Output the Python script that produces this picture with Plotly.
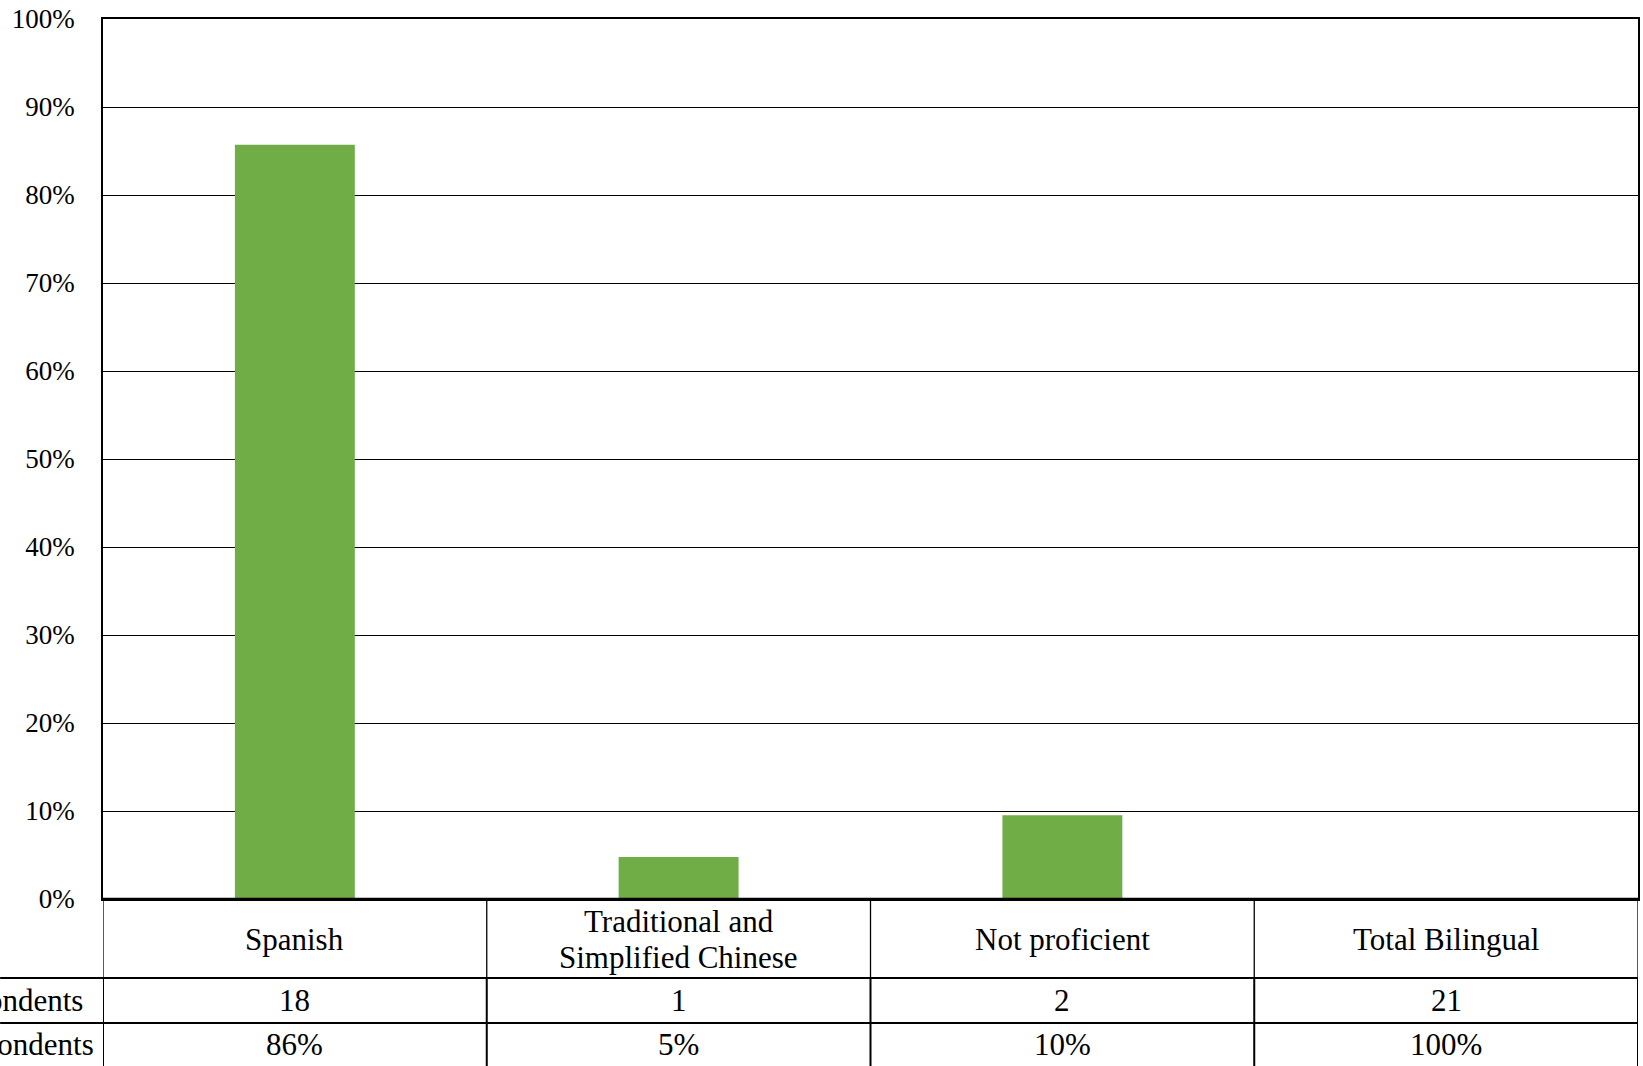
import plotly.graph_objects as go

# Bilingual respondents by language
categories = ["Spanish", "Traditional and<br>Simplified Chinese", "Not proficient", "Total Bilingual"]
respondents = [18, 1, 2, 21]
total_respondents = 21
shown_bars = [True, True, True, False]   # the total column has no bar
row_labels = ["Number of Respondents", "Percentage of Respondents"]
y_ticks = [0, 0.1, 0.2, 0.3, 0.4, 0.5, 0.6, 0.7, 0.8, 0.9, 1.0]

shares = [n / total_respondents for n in respondents]
bar_values = [s if show else None for s, show in zip(shares, shown_bars)]
percent_text = [f"{round(s * 100)}%" for s in shares]

W, H = 1643, 1066
L, R, T, B = 103, 3, 19, 167
plot_h = H - T - B
plot_w = W - L - R
FONT = "Liberation Serif, Times New Roman, serif"


def py(pixel_y):
    """Pixel row -> paper y (0 at the category axis, 1 at the top of the plot)."""
    return (H - B - pixel_y) / plot_h


def px(pixel_x):
    return (pixel_x - L) / plot_w


fig = go.Figure(
    go.Bar(
        x=list(range(len(categories))),
        y=bar_values,
        width=0.3125,
        marker=dict(color="#70AD47", line=dict(width=0)),
        hoverinfo="skip",
    )
)

fig.update_layout(
    width=W,
    height=H,
    margin=dict(l=L, r=R, t=T, b=B, pad=0),
    paper_bgcolor="white",
    plot_bgcolor="white",
    showlegend=False,
    font=dict(family=FONT, color="black"),
    xaxis=dict(
        range=[-0.5, len(categories) - 0.5],
        showticklabels=False,
        showgrid=False,
        zeroline=False,
        showline=True,
        linecolor="black",
        linewidth=1.5,
        mirror=True,
        ticks="",
    ),
    yaxis=dict(
        range=[0, 1],
        tickvals=y_ticks,
        tickformat=".0%",
        tickfont=dict(family=FONT, size=27, color="black"),
        ticklabelstandoff=21,
        ticks="",
        showgrid=True,
        gridcolor="black",
        gridwidth=1.2,
        zeroline=False,
        showline=True,
        linecolor="black",
        linewidth=1.5,
        mirror=True,
    ),
)

shapes = []
row_top = H - B           # 899
row1_bot = 978
row2_bot = 1023
row3_bot = 1068

# horizontal table rules
shapes.append(dict(type="line", xref="paper", yref="paper", x0=0, x1=1,
                   y0=0, y1=0, line=dict(color="black", width=2.5)))
for yy in (row1_bot, row2_bot):
    shapes.append(dict(type="line", xref="paper", yref="paper", x0=px(0), x1=1,
                       y0=py(yy), y1=py(yy), line=dict(color="black", width=2)))

# vertical table rules between columns
for i in range(len(categories) + 1):
    xb = i - 0.5
    shapes.append(dict(type="line", xref="x", yref="paper", x0=xb, x1=xb,
                       y0=0, y1=py(row1_bot), line=dict(color="black", width=1.3)))
    shapes.append(dict(type="line", xref="x", yref="paper", x0=xb, x1=xb,
                       y0=py(row1_bot), y1=py(row3_bot), line=dict(color="black", width=2)))

fig.update_layout(shapes=shapes)

annotations = []
cell_font = dict(family=FONT, size=31, color="black")
line_gap = 35.5
for i, cat in enumerate(categories):
    lines = cat.split("<br>")
    mid = (row_top + row1_bot) / 2 + 1
    first = mid - line_gap * (len(lines) - 1) / 2
    for k, line in enumerate(lines):
        annotations.append(dict(x=i, xref="x", y=py(first + k * line_gap), yref="paper",
                                text=line, showarrow=False, font=cell_font,
                                xanchor="center", yanchor="middle", align="center"))
    annotations.append(dict(x=i, xref="x", y=py((row1_bot + row2_bot) / 2), yref="paper",
                            text=str(respondents[i]), showarrow=False, font=cell_font,
                            xanchor="center", yanchor="middle"))
    annotations.append(dict(x=i, xref="x", y=py((row2_bot + row3_bot) / 2 - 1), yref="paper",
                            text=percent_text[i], showarrow=False, font=cell_font,
                            xanchor="center", yanchor="middle"))

# row headers (right-aligned against the table's left edge)
annotations.append(dict(x=px(85), xref="paper", y=py((row1_bot + row2_bot) / 2), yref="paper",
                        text=row_labels[0], showarrow=False, font=cell_font,
                        xanchor="right", yanchor="middle"))
annotations.append(dict(x=px(96), xref="paper", y=py((row2_bot + row3_bot) / 2 - 1), yref="paper",
                        text=row_labels[1], showarrow=False, font=cell_font,
                        xanchor="right", yanchor="middle"))

fig.update_layout(annotations=annotations)

fig.write_html("out.html")
